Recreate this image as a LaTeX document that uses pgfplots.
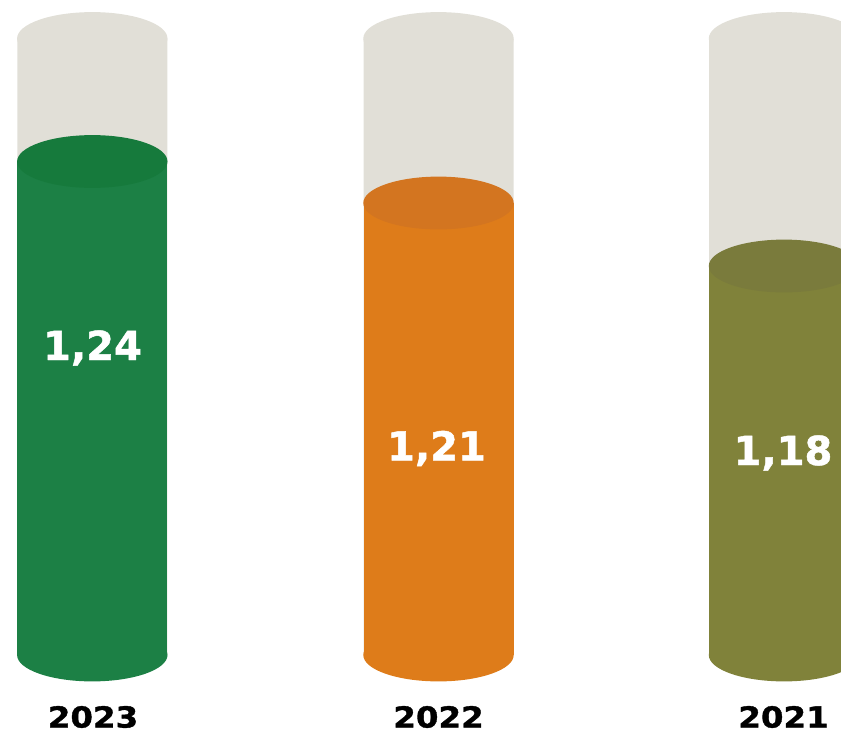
\documentclass[border=0pt]{standalone}
\usepackage{fontspec}
\setmainfont{DejaVu Sans}
\newfontfamily\heavyfont{DejaVu Sans Bold}[FakeBold=1.2]
\newfontfamily\widefont{DejaVu Sans Bold}[FakeBold=1.2, FakeStretch=1.12]
\usepackage{pgfplots}
\pgfplotsset{compat=1.18}

\definecolor{tubegrey}{HTML}{E1DFD7}
\definecolor{green23}{HTML}{1C8045}
\definecolor{green23top}{HTML}{167A3C}
\definecolor{orange22}{HTML}{DE7C1A}
\definecolor{orange22top}{HTML}{D37520}
\definecolor{olive21}{HTML}{80823A}
\definecolor{olive21top}{HTML}{7A7B3C}

% flat ellipse used for the cylinder caps
\pgfdeclareplotmark{cap}{%
  \pgfpathellipse{\pgfpointorigin}{\pgfqpoint{37.6pt}{0pt}}{\pgfqpoint{0pt}{13.2pt}}%
  \pgfusepathqfill}

\begin{document}
\begin{tikzpicture}
\begin{axis}[
  x=0.5pt, y=0.5pt,
  xmin=0, xmax=841,
  ymin=-81, ymax=655,
  axis line style={draw=none},
  xtick=\empty, ytick=\empty,
  clip marker paths=true,
  bar width=150,
]
% empty tubes
\addplot[ybar, bar shift=0pt, fill=tubegrey, draw=none]
  coordinates {(92.3,616.5) (438.5,616.5) (784,616.5)};
\addplot[only marks, mark=cap, mark options={fill=tubegrey}]
  coordinates {(92.3,616.5) (438.5,616.5) (784,616.5)};

% 2023
\addplot[ybar, bar shift=0pt, fill=green23, draw=none] coordinates {(92.3,493.5)};
\addplot[only marks, mark=cap, mark options={fill=green23}] coordinates {(92.3,0)};
\addplot[only marks, mark=cap, mark options={fill=green23top}] coordinates {(92.3,493.5)};

% 2022
\addplot[ybar, bar shift=0pt, fill=orange22, draw=none] coordinates {(438.5,452)};
\addplot[only marks, mark=cap, mark options={fill=orange22}] coordinates {(438.5,0)};
\addplot[only marks, mark=cap, mark options={fill=orange22top}] coordinates {(438.5,452)};

% 2021
\addplot[ybar, bar shift=0pt, fill=olive21, draw=none] coordinates {(784,389)};
\addplot[only marks, mark=cap, mark options={fill=olive21}] coordinates {(784,0)};
\addplot[only marks, mark=cap, mark options={fill=olive21top}] coordinates {(784,389)};

% values inside the tubes
\addplot[draw=none, nodes near coords, point meta=explicit symbolic,
  every node near coord/.style={anchor=center, text=white,
    font=\fontsize{20}{24}\heavyfont}]
  table[meta=label] {
x y label
92.5 307 1,24
436.5 206.5 1,21
783 202 1,18
};

% years
\addplot[draw=none, nodes near coords, point meta=explicit symbolic,
  every node near coord/.style={anchor=center, text=black,
    font=\fontsize{14.5}{18}\widefont}]
  table[meta=label] {
x y label
93 -62 2023
438.5 -62 2022
783.5 -62 2021
};
\end{axis}
\end{tikzpicture}
\end{document}
